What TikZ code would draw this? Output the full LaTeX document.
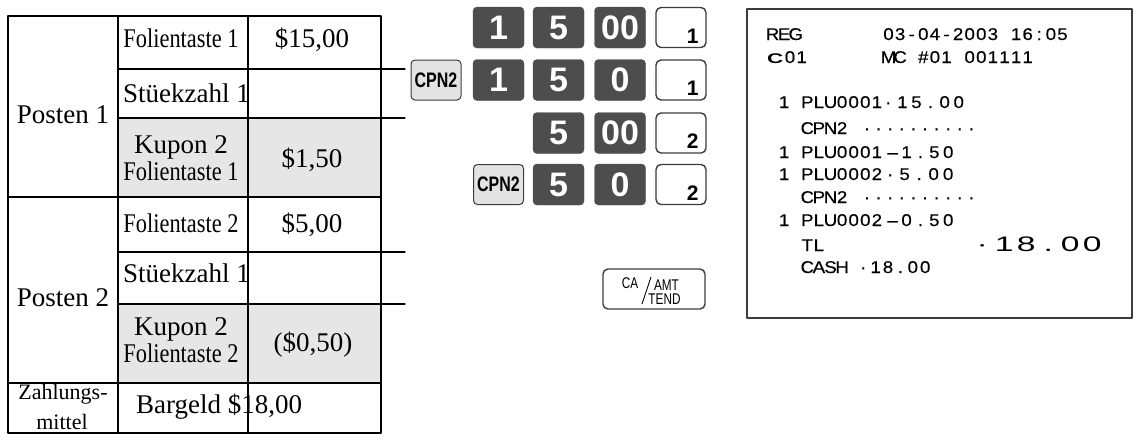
\documentclass[tikz,border=0pt]{standalone}
\usepackage{fontspec}
\setmainfont{Liberation Serif}
\newfontfamily\condserif[FakeStretch=0.83]{Liberation Serif}
\newfontfamily\keysans{Liberation Sans}
\newfontfamily\narrowsans[FakeStretch=0.76]{Liberation Sans}
\newfontfamily\slipsans[FakeStretch=1.1,FakeBold=0.3]{Liberation Sans}
\newfontfamily\widesans[FakeStretch=1.6]{Liberation Sans}
\usetikzlibrary{positioning}
\definecolor{keydark}{HTML}{4D4D4D}
\definecolor{keylight}{HTML}{E3E3E3}
\definecolor{cellgray}{HTML}{E6E6E6}
\definecolor{rim}{HTML}{3C3C3C}
\newlength\cellw
\newcommand\mono[2][11.6pt]{\setlength\cellw{#1}\monoloop#2\relax}
\def\monoloop#1{\ifx#1\relax\else\makebox[\cellw][c]{#1}\expandafter\monoloop\fi}
\tikzset{
  every picture/.style={line join=round, line cap=round},
  tabtext/.style={inner sep=0pt, font=\fontsize{27}{30}\selectfont},
  numkey/.style={draw=keydark, fill=keydark, rounded corners=4pt, minimum width=51pt, minimum height=41pt, inner sep=0pt, text=white, font=\keysans\bfseries\fontsize{34}{36}\selectfont},
  cpnkey/.style={draw=rim, fill=keylight, line width=1pt, rounded corners=4pt, minimum width=50pt, minimum height=40pt, inner sep=0pt, font=\narrowsans\bfseries\fontsize{21}{24}\selectfont},
  deptkey/.style={draw=rim, fill=white, line width=1.4pt, rounded corners=5pt, minimum width=50pt, minimum height=40pt, inner sep=0pt},
  deptnum/.style={anchor=base east, inner sep=0pt, font=\keysans\bfseries\fontsize{21}{24}\selectfont},
  keylabel/.style={anchor=base, inner sep=0pt, font=\narrowsans\fontsize{15.5}{17}\selectfont},
  slip/.style={anchor=base west, inner sep=0pt, font=\slipsans\fontsize{17}{19}\selectfont},
  bigslip/.style={anchor=base west, inner sep=0pt, font=\widesans\fontsize{21}{24}\selectfont},
}

\begin{document}
\begin{tikzpicture}[x=1pt,y=-1pt]
\useasboundingbox (0,0) rectangle (1134,440);
\fill[cellgray] (118,118) rectangle (381,197);
\fill[cellgray] (118,304) rectangle (381,383);
\draw[line width=1.2pt] (118,69) -- (405,69) (118,118) -- (405,118) (118,252) -- (405,252) (118,304) -- (405,304);
\draw[line width=1.2pt] (248,16) -- (248,433);
\draw[line width=2pt] (8,197) -- (381,197) (8,383) -- (381,383) (118,16) -- (118,433);
\draw[line width=2.2pt,line cap=rect] (8,16) rectangle (381,433);
\node[tabtext,anchor=base] (post1) at (63,123) {Posten 1};
\node[tabtext,anchor=base] (post2) at (63,306) {Posten 2};
\node[tabtext,anchor=base] (fol1) at (181,47) {\condserif Folientaste 1};
\node[tabtext,anchor=base] (val1) at (312,47) {\$15,00};
\node[tabtext,anchor=base west] (qty1) at (123,102) {Stüekzahl 1};
\node[tabtext,anchor=base] (kup1) at (181,153) {Kupon 2};
\node[tabtext,anchor=base] (kfol1) at (181,180) {\condserif Folientaste 1};
\node[tabtext,anchor=base] (disc1) at (312,167) {\$1,50};
\node[tabtext,anchor=base] (fol2) at (181,232) {\condserif Folientaste 2};
\node[tabtext,anchor=base] (val2) at (312,232) {\$5,00};
\node[tabtext,anchor=base west] (qty2) at (123,282) {Stüekzahl 1};
\node[tabtext,anchor=base] (kup2) at (181,335) {Kupon 2};
\node[tabtext,anchor=base] (kfol2) at (181,362) {\condserif Folientaste 2};
\node[tabtext,anchor=base] (disc2) at (313,351) {(\$0,50)};
\node[tabtext,anchor=base,font=\fontsize{22}{24}\selectfont] (pay1) at (63,399) {Zahlungs-};
\node[tabtext,anchor=base,font=\fontsize{22}{24}\selectfont] (pay2) at (62,429) {mittel};
\node[tabtext,anchor=base west] (cash) at (136,413) {Bargeld \$18,00};

\node[numkey] (a1) at (498.5,27.5) {1};
\node[numkey] (a2) at (558.5,27.5) {5};
\node[numkey] (a3) at (620,27.5) {00};
\node[deptkey] (a4) at (681,27.5) {};
\node[deptnum] at ([xshift=-8pt,yshift=5pt]a4.south east) {1};
\node[cpnkey] (b0) at (436,80) {CPN2};
\node[numkey] (b1) at (498.5,80) {1};
\node[numkey] (b2) at (558.5,80) {5};
\node[numkey] (b3) at (620,80) {0};
\node[deptkey] (b4) at (681,80) {};
\node[deptnum] at ([xshift=-8pt,yshift=5pt]b4.south east) {1};
\node[numkey] (c2) at (558.5,133) {5};
\node[numkey] (c3) at (620,133) {00};
\node[deptkey] (c4) at (681,133) {};
\node[deptnum] at ([xshift=-8pt,yshift=5pt]c4.south east) {2};
\node[cpnkey] (d1) at (498.5,184.5) {CPN2};
\node[numkey] (d2) at (558.5,184.5) {5};
\node[numkey] (d3) at (620,184.5) {0};
\node[deptkey] (d4) at (681,184.5) {};
\node[deptnum] at ([xshift=-8pt,yshift=5pt]d4.south east) {2};
\node[deptkey,minimum width=102pt] (tend) at (654,289) {};
\node[keylabel] (tca) at (630,288) {CA};
\node[keylabel] (tamt) at (666.5,290) {AMT};
\node[keylabel] (ttend) at (664.5,304) {TEND};
\draw[line width=0.9pt] (651,277) -- (642,304);

\draw[line width=1.2pt,draw=rim] (747,9) rectangle (1132,318);
\node[slip] (reg) at (766.5,40) {\mono{REG}};
\node[slip] (date) at (882.5,40) {\mono{03-04-2003~16:05}};
\node[slip,font=\widesans\bfseries\fontsize{14}{16}\selectfont] (clerk) at (767,63) {C};
\node[slip] (clerkno) at (784,63) {\mono{01}};
\node[slip] (mc) at (882.5,63) {\mono{MC~\#01~001111}};
\node[slip] (n1) at (778.1,108) {\mono{1}};
\node[slip] (plu1) at (801.3,108) {\mono{PLU0001}};
\node[slip] (amt1) at (881,108) {\mono[14.1pt]{·15.00}};
\node[slip] (cpn1) at (801.3,134) {\mono{CPN2}};
\node[slip] (dots1) at (861,134) {\mono{··········}};
\node[slip] (n2) at (778.1,158) {\mono{1}};
\node[slip] (plu2) at (801.3,158) {\mono{PLU0001}};
\node[slip] (amt2) at (885.5,158) {\mono[13.9pt]{–1.50}};
\node[slip] (n3) at (778.1,180) {\mono{1}};
\node[slip] (plu3) at (801.3,180) {\mono{PLU0002}};
\node[slip] (amt3) at (882.7,180) {\mono[14.5pt]{·5.00}};
\node[slip] (cpn2) at (801.3,203) {\mono{CPN2}};
\node[slip] (dots2) at (861,203) {\mono{··········}};
\node[slip] (n4) at (778.1,226) {\mono{1}};
\node[slip] (plu4) at (801.3,226) {\mono{PLU0002}};
\node[slip] (amt4) at (885.5,226) {\mono[13.9pt]{–0.50}};
\node[slip] (tl) at (801.3,251) {\mono{TL}};
\node[bigslip] (total) at (971,251) {\mono[22pt]{·18.00}};
\node[slip] (paid) at (801.3,273) {\mono{CASH}};
\node[slip] (paidamt) at (856.8,273) {\mono[12.4pt]{·18.00}};
\end{tikzpicture}
\end{document}
